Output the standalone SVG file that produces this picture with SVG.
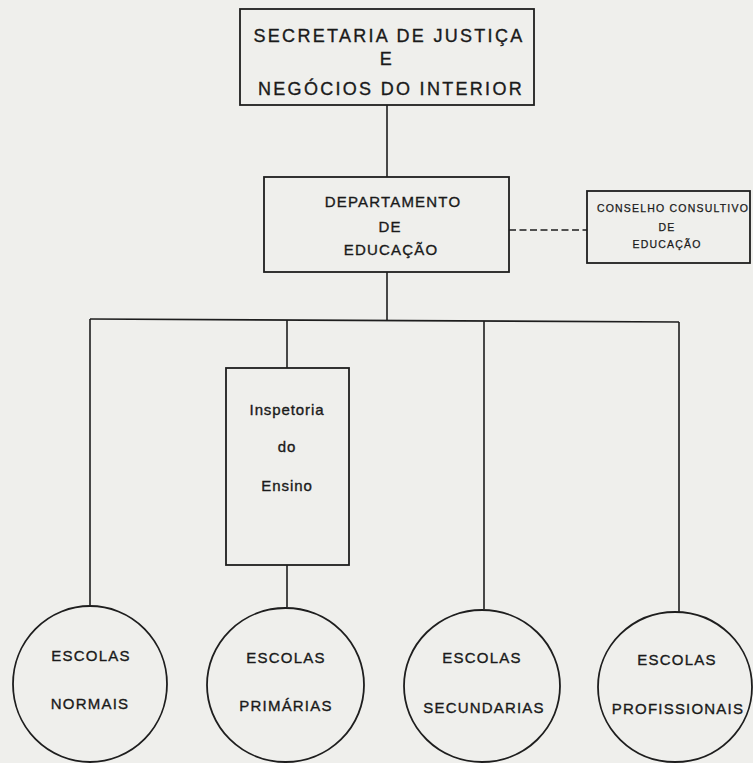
<svg xmlns="http://www.w3.org/2000/svg" width="753" height="763" viewBox="0 0 753 763">
<style>
.bg{fill:#efefec}
.box{fill:none;stroke:#1e1e1e;stroke-width:1.8}
.ln{fill:none;stroke:#1e1e1e;stroke-width:1.6}
.dash{fill:none;stroke:#1e1e1e;stroke-width:1.6;stroke-dasharray:7 3.5}
text{font-family:"Liberation Sans",Arial,sans-serif;fill:#1a1a1a;stroke:#1a1a1a;stroke-width:0.35;text-anchor:middle}
.t1{font-size:18px;letter-spacing:2.3px}
.t2{font-size:15px;letter-spacing:1.2px}
.t3{font-size:10.5px;letter-spacing:1.2px;stroke-width:0.25}
.t4{font-size:15px;letter-spacing:0.9px}
</style>
<rect class="bg" x="0" y="0" width="753" height="763"/>
<g id="connectors">
<line class="ln" x1="387" y1="105" x2="387" y2="177"/>
<line class="ln" x1="387" y1="272" x2="387" y2="320"/>
<line class="dash" x1="509" y1="230" x2="587" y2="230"/>
<line class="ln" x1="90" y1="319" x2="679" y2="322"/>
<line class="ln" x1="90" y1="319" x2="90" y2="606"/>
<line class="ln" x1="287" y1="320" x2="287" y2="368"/>
<line class="ln" x1="287" y1="565" x2="287" y2="607"/>
<line class="ln" x1="484" y1="321" x2="484" y2="609"/>
<line class="ln" x1="679" y1="322" x2="679" y2="612"/>
</g>
<g id="secretaria">
<rect class="box" x="240" y="9" width="294" height="96"/>
<text class="t1" x="389" y="42">SECRETARIA DE JUSTIÇA</text>
<text class="t1" x="387" y="65">E</text>
<text class="t1" x="391" y="95">NEGÓCIOS DO INTERIOR</text>
</g>
<g id="departamento">
<rect class="box" x="264" y="177" width="245" height="95"/>
<text class="t2" x="393" y="207">DEPARTAMENTO</text>
<text class="t2" x="390" y="232">DE</text>
<text class="t2" x="391" y="255">EDUCAÇÃO</text>
</g>
<g id="conselho">
<rect class="box" x="587" y="191" width="163" height="72"/>
<text class="t3" x="673" y="212">CONSELHO CONSULTIVO</text>
<text class="t3" x="667" y="231">DE</text>
<text class="t3" x="667" y="248">EDUCAÇÃO</text>
</g>
<g id="inspetoria">
<rect class="box" x="226" y="368" width="123" height="197"/>
<text class="t4" x="287" y="415">Inspetoria</text>
<text class="t4" x="287" y="452">do</text>
<text class="t4" x="287" y="491">Ensino</text>
</g>
<g id="normais">
<ellipse class="box" cx="90" cy="684" rx="77" ry="78"/>
<text class="t2" x="91" y="661">ESCOLAS</text>
<text class="t2" x="90" y="709">NORMAIS</text>
</g>
<g id="primarias">
<ellipse class="box" cx="285.5" cy="685" rx="78.5" ry="77"/>
<text class="t2" x="286" y="663">ESCOLAS</text>
<text class="t2" x="286" y="711">PRIMÁRIAS</text>
</g>
<g id="secundarias">
<ellipse class="box" cx="482" cy="686" rx="78" ry="76"/>
<text class="t2" x="482" y="663">ESCOLAS</text>
<text class="t2" x="484" y="713">SECUNDARIAS</text>
</g>
<g id="profissionais">
<ellipse class="box" cx="675" cy="687" rx="77" ry="75"/>
<text class="t2" x="677" y="665">ESCOLAS</text>
<text class="t2" x="678" y="714">PROFISSIONAIS</text>
</g>
</svg>
